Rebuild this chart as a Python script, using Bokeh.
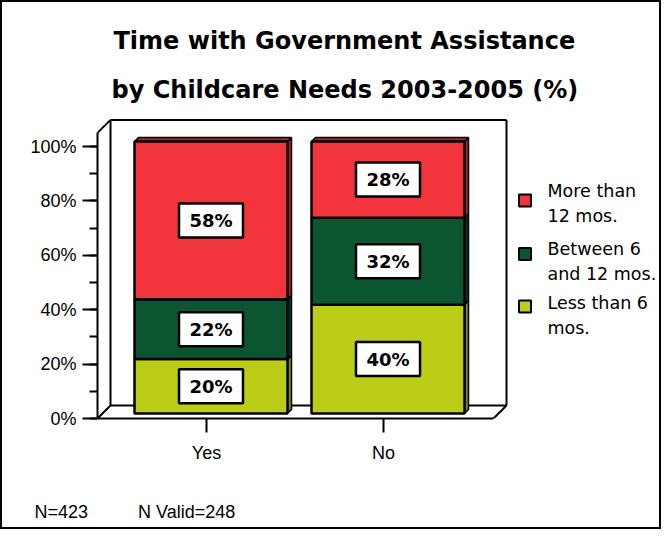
from bokeh.plotting import figure
from bokeh.models import (Range1d, FixedTicker, SingleIntervalTicker, PrintfTickFormatter,
                          ColumnDataSource, Title)
from bokeh.core.properties import value
from bokeh.embed import file_html
from bokeh.resources import INLINE

# ---------------- data ----------------
categories = ["Yes", "No"]
series_names = ["Less than 6 mos.", "Between 6 and 12 mos.", "More than 12 mos."]
less_than_6 = [20, 40]
between_6_12 = [22, 32]
more_than_12 = [58, 28]
legend_labels = ["More than\n12 mos.", "Between 6\nand 12 mos.", "Less than 6\nmos."]
title_lines = ["Time with Government Assistance", "by Childcare Needs 2003-2005 (%)"]
footnotes = ["N=423", "N Valid=248"]

series_values = [less_than_6, between_6_12, more_than_12]
colors = ["#BBCD16", "#0B5530", "#F2353C"]
side_colors = ["#7E8A0F", "#063820", "#A82428"]

# ---------------- layout (screenshot pixels) ----------------
OFF = 2                      # css border width; canvas starts at (OFF, OFF)
W, H = 661, 529
FL, FR, FT, FB = 97, 659, 118, 418
XPX = 177.0
YPX = 2.72
X0 = 1 - (206 - FL) / XPX


def px2x(px):
    return X0 + (px - FL) / XPX


def py2y(py):
    return (FB - py) / YPX


p = figure(width=W, height=H, output_backend="svg", toolbar_location=None,
           x_range=Range1d(X0, px2x(FR)), y_range=Range1d(0, py2y(FT)),
           min_border_left=FL - OFF, min_border_right=W + OFF - FR,
           min_border_top=FT - OFF, min_border_bottom=H + OFF - FB)
p.styles = {"border": "2px solid black"}
p.outline_line_color = None
p.xgrid.visible = False
p.ygrid.visible = False
p.background_fill_color = "white"
p.border_fill_color = "white"

TICK_FONT = "Liberation Sans"

xa = p.xaxis[0]
xa.ticker = FixedTicker(ticks=[i + 1 for i in range(len(categories))])
xa.major_label_overrides = {i + 1: c for i, c in enumerate(categories)}
xR = px2x(493)
xa.bounds = (X0, xR)
xa.axis_line_width = 2
xa.axis_line_color = "black"
xa.major_tick_line_width = 2
xa.major_tick_out = 14
xa.major_tick_in = 0
xa.minor_tick_line_color = None
xa.major_label_standoff = 10
xa.major_label_text_font = TICK_FONT
xa.major_label_text_font_size = "18px"
xa.major_label_text_color = "black"

ya = p.yaxis[0]
ya.ticker = SingleIntervalTicker(interval=20, num_minor_ticks=2)
ya.formatter = PrintfTickFormatter(format="%d%%")
ya.bounds = (0, 105)
ya.axis_line_width = 2
ya.major_tick_line_width = 2
ya.minor_tick_line_width = 2
ya.major_tick_out = 15
ya.major_tick_in = 0
ya.minor_tick_out = 8
ya.minor_tick_in = 0
ya.major_label_standoff = 6
ya.major_label_text_font = TICK_FONT
ya.major_label_text_font_size = "18px"
ya.major_label_text_color = "black"

# ---------------- 3-D walls ----------------
DX = 13 / XPX
DY = 13 / YPX
TOP = 105
wall_xs = [[X0, X0 + DX], [X0 + DX, xR + DX], [X0 + DX, X0 + DX], [xR + DX, xR + DX],
           [X0 + DX, xR + DX], [X0, X0 + DX], [xR, xR + DX]]
wall_ys = [[TOP, TOP + DY], [TOP + DY, TOP + DY], [DY, TOP + DY], [DY, TOP + DY],
           [DY, DY], [0, DY], [0, DY]]
p.multi_line(xs=wall_xs, ys=wall_ys, line_color="black", line_width=2)

# ---------------- bars ----------------
BXOFF = 4.5 / XPX
BW = 153 / XPX
BY = 5 / YPX
BDX = 4 / XPX
BDY = 4 / YPX

fx, fb, ft, fc = [], [], [], []
sxs, sys, sc = [], [], []
lx, ly, lt = [], [], []
for i, cat in enumerate(categories):
    xc = i + 1 + BXOFF
    xl, xr = xc - BW / 2, xc + BW / 2
    cum = BY
    for s, vals in enumerate(series_values):
        v = vals[i]
        b, t = cum, cum + v
        fx.append(xc); fb.append(b); ft.append(t); fc.append(colors[s])
        sxs.append([xr, xr + BDX, xr + BDX, xr]); sys.append([b, b + BDY, t + BDY, t])
        sc.append(side_colors[s])
        if s == len(series_values) - 1:
            sxs.append([xl, xr, xr + BDX, xl + BDX]); sys.append([t, t, t + BDY, t + BDY])
            sc.append(side_colors[s])
        lx.append(xc); ly.append((b + t) / 2); lt.append(f"{v}%")
        cum = t

p.patches(xs=sxs, ys=sys, fill_color=sc, line_color="black", line_width=1.5)
p.vbar(x=fx, width=BW, bottom=fb, top=ft, fill_color=fc, line_color="black", line_width=2.5)

lsrc = ColumnDataSource(dict(x=lx, y=ly, t=lt))
p.rect(x="x", y="y", width=64, height=34, width_units="screen", height_units="screen",
       source=lsrc, fill_color="white", line_color="black", line_width=2.5)
p.text(x="x", y="y", text="t", source=lsrc, text_align="center", text_baseline="middle",
       text_font=value("DejaVu Sans"), text_font_style="bold", text_font_size="18px",
       text_color="black")

# ---------------- legend ----------------
leg_sq_y = [200, 253.5, 306]
leg_line_mid = [[190.8, 215.5], [248.5, 273.5], [302, 327.5]]
leg_colors = [colors[2], colors[1], colors[0]]
p.rect(x=[px2x(524.5)] * 3, y=[py2y(v) for v in leg_sq_y], width=12, height=12,
       width_units="screen", height_units="screen", fill_color=leg_colors,
       line_color="black", line_width=2)
tx, ty, tt = [], [], []
for k, lab in enumerate(legend_labels):
    for j, line in enumerate(lab.split("\n")):
        tx.append(px2x(547)); ty.append(py2y(leg_line_mid[k][j])); tt.append(line)
p.text(x=tx, y=ty, text=tt, text_align="left", text_baseline="middle",
       text_font=value("DejaVu Sans"), text_font_size="17.5px", text_color="black")

# ---------------- title & notes ----------------
p.add_layout(Title(text=title_lines[1], align="left", offset=14, standoff=30,
                   text_font="DejaVu Sans", text_font_style="bold", text_font_size="24px",
                   text_color="black"), "above")
p.add_layout(Title(text=title_lines[0], align="left", offset=16, standoff=7,
                   text_font="DejaVu Sans", text_font_style="bold", text_font_size="24px",
                   text_color="black"), "above")
# spacer between the category axis and the footnote
p.add_layout(Title(text="\u00a0", align="left", standoff=7.5,
                   text_font=TICK_FONT, text_font_size="18px"), "below")
gap = "\u00a0" * 10
p.add_layout(Title(text=gap.join(footnotes), align="left", offset=34 - FL, standoff=8,
                   text_font=TICK_FONT, text_font_style="normal", text_font_size="18px",
                   text_color="black"), "below")

open("out.html", "w").write(file_html(p, INLINE))
